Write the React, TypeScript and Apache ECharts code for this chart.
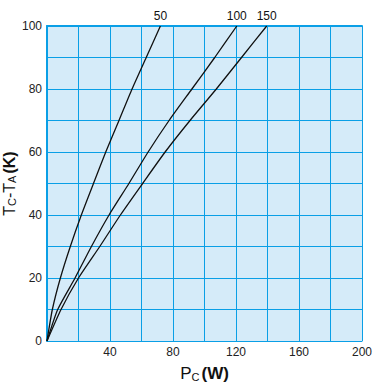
import React, { useEffect, useRef } from "react";
import * as echarts from "echarts";

const tempRise = [0, 10, 20, 30, 40, 50, 60, 70, 80, 90, 100];
const power50 = [0, 3.4, 8.5, 14.8, 21.8, 29.5, 37.3, 45.7, 54, 63, 72];
const power100 = [0, 6.8, 17.8, 28.2, 39.4, 52, 64.2, 77.5, 92, 106.5, 120.5];
const power150 = [0, 8.9, 20, 33.5, 46.6, 60.7, 75, 90.8, 107.5, 123.5, 139.5];
const curveNames = ["50", "100", "150"];
const xLabelTicks = [40, 80, 120, 160, 200];
const yLabelTicks = [0, 20, 40, 60, 80, 100];

const BLUE = "#0a9fe6";
const FONT = "Liberation Sans, Arial, sans-serif";

export default function App() {
  const ref = useRef<HTMLDivElement>(null);
  useEffect(() => {
    if (!ref.current) return;
    const chart = echarts.init(ref.current, undefined, { renderer: "svg" });
    const curves = [power50, power100, power150];
    const series = curves.map((pw, ci) => ({
      type: "line",
      name: curveNames[ci],
      showSymbol: false,
      symbol: "none",
      smooth: 0.2,
      lineStyle: { color: "#111", width: 1.3 },
      endLabel: {
        show: true,
        formatter: curveNames[ci],
        color: "#111",
        fontSize: 12,
        fontFamily: FONT,
        align: "center",
        verticalAlign: "bottom",
        distance: 0,
        offset: [0, -4],
      },
      data: tempRise.map((t, i) => [pw[i], t]),
    }));
    chart.setOption({
      animation: false,
      grid: {
        left: 47,
        top: 26,
        width: 315,
        height: 315,
        show: true,
        backgroundColor: "#d5ebf9",
        borderWidth: 0,
        outerBoundsMode: "none",
        containLabel: false,
      },
      xAxis: [
        {
          type: "value",
          min: 0,
          max: 200,
          interval: 20,
          axisLine: { show: true, lineStyle: { color: BLUE, width: 1 } },
          axisTick: { show: false },
          splitLine: { show: true, lineStyle: { color: BLUE, width: 1 } },
          axisLabel: {
            margin: 5,
            color: "#222",
            fontSize: 12,
            fontFamily: FONT,
            formatter: (v: number) => (xLabelTicks.includes(v) ? String(v) : ""),
          },
          name: "{p|P}{s|C}{w|(W)}",
          nameLocation: "middle",
          nameGap: 23,
          nameMoveOverlap: false,
          nameTextStyle: {
            rich: {
              p: { fontSize: 17, fontFamily: FONT, color: "#111", verticalAlign: "bottom", lineHeight: 18 },
              s: { fontSize: 11, fontFamily: FONT, color: "#111", verticalAlign: "bottom", lineHeight: 13 },
              w: { fontSize: 17, fontFamily: FONT, fontWeight: "bold", color: "#111", verticalAlign: "bottom", lineHeight: 18, padding: [0, 0, 0, 2] },
            },
          },
        },
        {
          type: "value",
          position: "top",
          min: 0,
          max: 200,
          interval: 20,
          axisLine: { show: true, onZero: false, lineStyle: { color: BLUE, width: 2 } },
          axisTick: { show: false },
          axisLabel: { show: false },
          splitLine: { show: false },
        },
      ],
      yAxis: {
        type: "value",
        min: 0,
        max: 100,
        interval: 10,
        axisLine: { show: true, lineStyle: { color: BLUE, width: 2 } },
        axisTick: { show: false },
        splitLine: { show: true, lineStyle: { color: BLUE, width: 1 } },
        axisLabel: {
          margin: 5,
          color: "#222",
          fontSize: 12,
          fontFamily: FONT,
          formatter: (v: number) => (yLabelTicks.includes(v) ? String(v) : ""),
        },
        name: "{p|T}{s|C}{p|-T}{s|A}{w|(K)}",
        nameLocation: "middle",
        nameRotate: 90,
        nameGap: 30,
        nameMoveOverlap: false,
        nameTextStyle: {
          rich: {
            p: { fontSize: 16, fontFamily: FONT, color: "#111", verticalAlign: "bottom", lineHeight: 17 },
            s: { fontSize: 11, fontFamily: FONT, color: "#111", verticalAlign: "bottom", lineHeight: 13 },
            w: { fontSize: 16, fontFamily: FONT, fontWeight: "bold", color: "#111", verticalAlign: "bottom", lineHeight: 17, padding: [0, 0, 0, 2] },
          },
        },
      },
      series,
    });
    return () => chart.dispose();
  }, []);
  return (
    <div
      ref={ref}
      style={{ position: "absolute", left: 0, top: 0, width: 380, height: 389, background: "#fff" }}
    />
  );
}
